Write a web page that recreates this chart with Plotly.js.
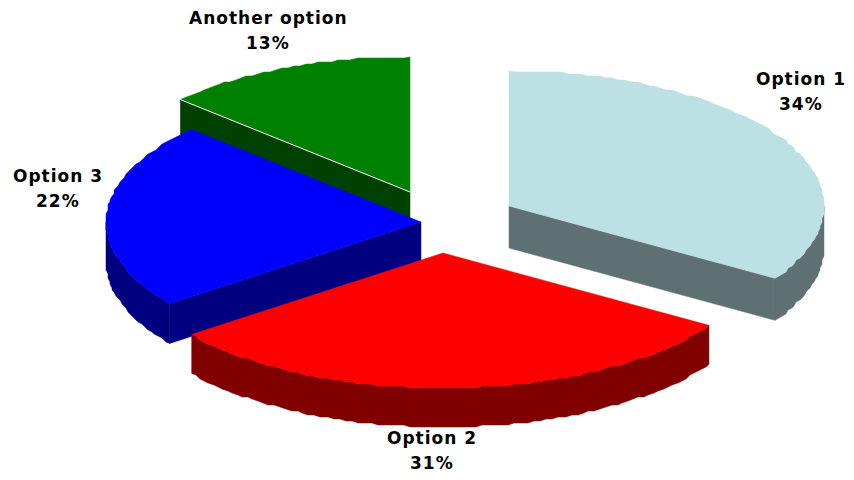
<!DOCTYPE html>
<html><head><meta charset="utf-8">
<script src="https://cdn.plot.ly/plotly-3.0.1.min.js"></script>
<style>html,body{margin:0;padding:0;background:#fff}#c{width:854px;height:480px}
.annotation-text{letter-spacing:1px}</style>
</head><body><div id="c"></div>
<script>
// Data
const categories = ["Option 1", "Option 2", "Option 3", "Another option"];
const shares = [34, 30.7, 22.3, 13];
const topColors = ["#BCE0E3", "#FF0000", "#0000FF", "#008000"];
const sideColors = ["#5E7072", "#800000", "#000080", "#004000"];

// Presentation: exploded slice apex positions, ellipse shape, label anchors
const apexX = [509, 443, 421, 410];
const apexY = [206, 253, 222, 192];
const depths = [42, 39, 40, 40];
const labelX = [801, 432, 58, 268];
const labelY = [79, 438, 176, 18];
const RX = 315, RY = 135, STEP = 1.2, GRID = 2, LINE_GAP = 24.5;

const total = shares.reduce((a, b) => a + b, 0);
const rad = d => d * Math.PI / 180;
const px = (i, a) => apexX[i] + RX * Math.sin(rad(a));
const py = (i, a) => apexY[i] - RY * Math.cos(rad(a));
const snap = v => Math.round(v / GRID) * GRID;

// Arc points: the reference outline is stair-stepped, so inner points snap to a coarse grid
function arc(i, a0, a1) {
  const xs = [px(i, a0)], ys = [py(i, a0)];
  for (let a = a0 + STEP; a < a1 - STEP; a += STEP) {
    xs.push(snap(px(i, a)));
    ys.push(snap(py(i, a)));
  }
  xs.push(px(i, a1));
  ys.push(py(i, a1));
  return {xs, ys};
}
function poly(xs, ys, color) {
  return {type: "scatter", mode: "lines", x: xs.concat(xs[0]), y: ys.concat(ys[0]),
    fill: "toself", fillcolor: color, line: {color: color, width: 0.5},
    hoverinfo: "skip", showlegend: false};
}

let cum = 0;
const spans = shares.map(v => { const s = [cum, cum + v / total * 360]; cum = s[1]; return s; });
const traces = [];
// Back to front: Another option, Option 3, Option 1, Option 2 so overlaps match
[3, 2, 0, 1].forEach(i => {
  const [a0, a1] = spans[i];
  const d = depths[i];
  // Curved wall: only the front half (90..270 degrees) faces the viewer
  const f0 = Math.max(a0, 90), f1 = Math.min(a1, 270);
  if (f1 > f0) {
    const {xs, ys} = arc(i, f0, f1);
    traces.push(poly(xs.concat(xs.slice().reverse()),
      ys.concat(ys.slice().reverse().map(y => y + d)), sideColors[i]));
  }
  // Flat cut walls facing the viewer
  [[a0, Math.sin(rad(a0)) < -1e-6], [a1, Math.sin(rad(a1)) > 1e-6]].forEach(([a, vis]) => {
    if (!vis) return;
    traces.push(poly([apexX[i], px(i, a), px(i, a), apexX[i]],
      [apexY[i], py(i, a), py(i, a) + d, apexY[i] + d], sideColors[i]));
  });
  // Top face
  const {xs, ys} = arc(i, a0, a1);
  traces.push(poly([apexX[i]].concat(xs), [apexY[i]].concat(ys), topColors[i]));
  // Pale highlight along the front cut of the green slice
  if (i === 3) traces.push({type: "scatter", mode: "lines",
    x: [px(i, a0), apexX[i]], y: [py(i, a0), apexY[i]],
    line: {color: "#ffffff", width: 1}, hoverinfo: "skip", showlegend: false});
});

const font = {family: "DejaVu Sans", size: 17, color: "#000"};
const annotations = [];
categories.forEach((c, i) => {
  annotations.push({x: labelX[i], y: labelY[i], text: "<b>" + c + "</b>", showarrow: false, font});
  annotations.push({x: labelX[i], y: labelY[i] + LINE_GAP, text: "<b>" + Math.round(shares[i]) + "%</b>", showarrow: false, font});
});

const hidden = {visible: false, fixedrange: true};
Plotly.newPlot("c", traces, {
  width: 854, height: 480, margin: {l: 0, r: 0, t: 0, b: 0},
  paper_bgcolor: "#fff", plot_bgcolor: "#fff", showlegend: false,
  xaxis: Object.assign({range: [0, 854]}, hidden),
  yaxis: Object.assign({range: [480, 0]}, hidden),
  annotations
}, {displayModeBar: false, staticPlot: true});
</script></body></html>
